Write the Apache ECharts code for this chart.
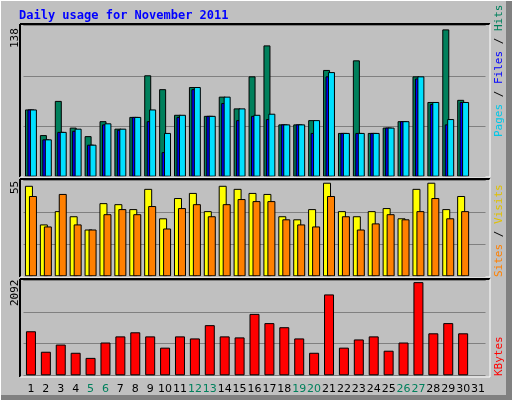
<!DOCTYPE html>
<html><head><meta charset="utf-8">
<script src="https://cdn.jsdelivr.net/npm/echarts@6/dist/echarts.min.js"></script>
<style>html,body{margin:0;padding:0;background:#c0c0c0}#c{width:512px;height:400px}</style>
</head><body><div id="c"></div>
<script>
const days = Array.from({length:31},(_,i)=>String(i+1));
const weekend = ['5','6','12','13','19','20','26','27'];
const hits  = [63,39,71,46,38,52,45,56,95,82,58,84,57,75,64,94,123,49,49,53,100,41,109,41,46,52,94,70,138,72,null];
const files = [63,35,42,43,30,49,44,56,52,23,56,82,57,69,53,57,54,49,49,41,94,41,41,41,46,52,92,68,49,70,null];
const pages = [63,35,42,45,30,50,45,56,63,41,58,84,57,75,64,58,59,49,49,53,98,41,41,41,46,52,94,70,54,70,null];
const sites = [53.2,30.5,38.3,35.3,27.5,43,42.4,39.5,51.4,34.1,46,49,38.3,53.2,51.4,49,48.4,35.3,33.5,39.5,55,38.3,35.3,38.3,40.1,34.1,51.4,55,39.5,47.2,null];
const visits= [47.2,29.3,48.4,30.5,27.5,36.5,39.5,36.5,41.3,28.1,40.1,42.4,35.3,42.4,45.4,44.2,44.2,33.5,30.5,29.3,47.2,35.3,27.5,31.1,36.5,33.5,38.3,46,34.1,38.3,null];
const kbytes= [989,529,690,506,391,736,874,966,874,621,874,828,1126,874,851,1379,1172,1080,828,506,1816,621,805,874,552,736,2092,943,1172,943,null];
const maxLabels = ['138','55','2092'];

const GL=23.5, GW=462;
const grids=[{left:GL,width:GW,top:25,height:151.7},{left:GL,width:GW,top:180,height:96.3},{left:GL,width:GW,top:280,height:95.3}];
const split={show:true,lineStyle:{color:'#808080',width:1}};
function xa(i){return {type:'category',data:days,gridIndex:i,axisLine:{show:false},axisTick:{show:false},
  axisLabel:{show:i===2,margin:8,interval:0,fontFamily:'DejaVu Sans',fontSize:11,
   formatter:v=>weekend.includes(v)?'{w|'+v+'}':'{n|'+v+'}',
   rich:{w:{color:'#00805c',fontSize:11,fontFamily:'DejaVu Sans'},n:{color:'#000',fontSize:11,fontFamily:'DejaVu Sans'}}}};}
function ya(i,max,iv){return {type:'value',gridIndex:i,min:0,max:max,interval:iv,axisLabel:{show:false},axisLine:{show:false},axisTick:{show:false},splitLine:split};}
const bs={borderColor:'#000',borderWidth:1};
function bar(name,data,color,gi,w,gap){return {type:'bar',name,data,xAxisIndex:gi,yAxisIndex:gi,barWidth:w,barGap:gap,itemStyle:Object.assign({color},bs),animation:false,silent:true};}

function vtext(x,y,text,rich,size){return {type:'text',x,y,rotation:Math.PI/2,style:{text,fontFamily:'DejaVu Sans Mono',fontSize:size||11,fill:'#000',align:'left',verticalAlign:'middle',rich}};}
function line(x1,y1,x2,y2,c,w){return {type:'line',shape:{x1,y1,x2,y2},style:{stroke:c,lineWidth:w||1},z:10};}
const panels=[[20,24,490,177],[20,179,490,277],[20,279,490,377]];
const gfx=[];
gfx.push(line(0.5,0,0.5,400,'#fff',1),line(0,0.5,512,0.5,'#fff',1));
gfx.push({type:'rect',shape:{x:506,y:0,width:6,height:400},style:{fill:'#808080'},z:9});
gfx.push({type:'rect',shape:{x:0,y:395,width:512,height:5},style:{fill:'#808080'},z:9});
panels.forEach(p=>{gfx.push(line(p[0],p[1],p[2],p[1],'#000',2),line(p[0],p[1],p[0],p[3],'#000',2),
  line(p[0],p[3],p[2],p[3],'#fff',1),line(p[2],p[1],p[2],p[3],'#fff',1));});
gfx.push({type:'text',x:19,y:16,style:{text:'Daily usage for November 2011',fontFamily:'DejaVu Sans Mono',fontWeight:'bold',fontSize:12,fill:'#0000ff',verticalAlign:'middle'}});
gfx.push(vtext(15,48,maxLabels[0]),vtext(15,194,maxLabels[1]),vtext(15,306,maxLabels[2]));
gfx.push(vtext(499,137,'{p|Pages} / {f|Files} / {h|Hits}',{p:{fill:'#00c8e8',fontFamily:'DejaVu Sans Mono',fontSize:11},f:{fill:'#0000ff',fontFamily:'DejaVu Sans Mono',fontSize:11},h:{fill:'#00805c',fontFamily:'DejaVu Sans Mono',fontSize:11}}));
gfx.push(vtext(499,277,'{s|Sites} / {v|Visits}',{s:{fill:'#ff8000',fontFamily:'DejaVu Sans Mono',fontSize:11},v:{fill:'#e0c000',fontFamily:'DejaVu Sans Mono',fontSize:11}}));
gfx.push(vtext(499,376,'{k|KBytes}',{k:{fill:'#ff0000',fontFamily:'DejaVu Sans Mono',fontSize:11}}));

const chart=echarts.init(document.getElementById('c'),null,{renderer:'canvas'});
chart.setOption({animation:false,backgroundColor:'#c0c0c0',grid:grids,
 xAxis:[xa(0),xa(1),xa(2)],
 yAxis:[ya(0,142.1,47.2),ya(1,56.6,18.85),ya(2,2140,713)],
 series:[bar('Hits',hits,'#00805c',0,7,'-65%'),bar('Files',files,'#0000ff',0,7,'-65%'),bar('Pages',pages,'#00e0ff',0,7,'-65%'),
  bar('Sites',sites,'#ffff00',1,8,'-50%'),bar('Visits',visits,'#ff8000',1,8,'-50%'),
  bar('KBytes',kbytes,'#ff0000',2,10,'0%')],
 graphic:gfx});
</script></body></html>
